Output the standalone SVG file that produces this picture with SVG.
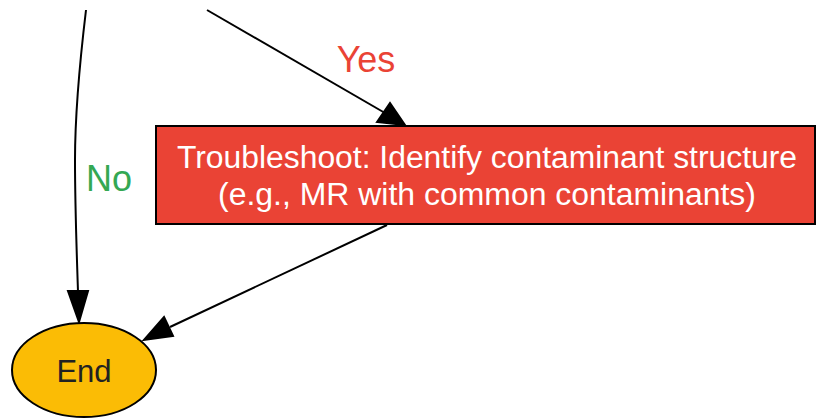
<svg xmlns="http://www.w3.org/2000/svg" width="817" height="418" viewBox="0 0 817 418">
<style>
.edge{fill:none;stroke:#000;stroke-width:2}
.lbl{font-family:"Liberation Sans",Arial,sans-serif;font-size:36px;text-anchor:middle}
.ntxt{font-family:"Liberation Sans",Arial,sans-serif;text-anchor:middle}
</style>
<rect width="817" height="418" fill="#fff"/>
<g id="edges">
<path class="edge" d="M86,10 C80,60 75,110 75,160 C75,210 77,260 78,292"/>
<path d="M68,291 L88,291 L79,322 Z" fill="#000" stroke="#000" stroke-width="2"/>
<text class="lbl" x="109" y="191" fill="#34a853">No</text>
<path class="edge" d="M207,10 L385,113"/>
<path d="M377,122 L390,103 L405,125 Z" fill="#000" stroke="#000" stroke-width="2"/>
<text class="lbl" x="366" y="72" fill="#ea4335">Yes</text>
<path class="edge" d="M387,225 L170,327"/>
<path d="M164,317 L173,336 L144,340 Z" fill="#000" stroke="#000" stroke-width="2"/>
</g>
<g id="troubleshoot">
<rect x="156" y="126" width="659" height="98" fill="#ea4335" stroke="#000" stroke-width="2"/>
<text class="ntxt" x="487" y="168" font-size="31" fill="#fff" textLength="620" lengthAdjust="spacingAndGlyphs">Troubleshoot: Identify contaminant structure</text>
<text class="ntxt" x="487" y="205" font-size="31" fill="#fff" textLength="538" lengthAdjust="spacingAndGlyphs">(e.g., MR with common contaminants)</text>
</g>
<g id="end">
<ellipse cx="84" cy="370" rx="72" ry="47" fill="#fbbc05" stroke="#000" stroke-width="2"/>
<text class="ntxt" x="84" y="382" font-size="31" fill="#222">End</text>
</g>
</svg>
